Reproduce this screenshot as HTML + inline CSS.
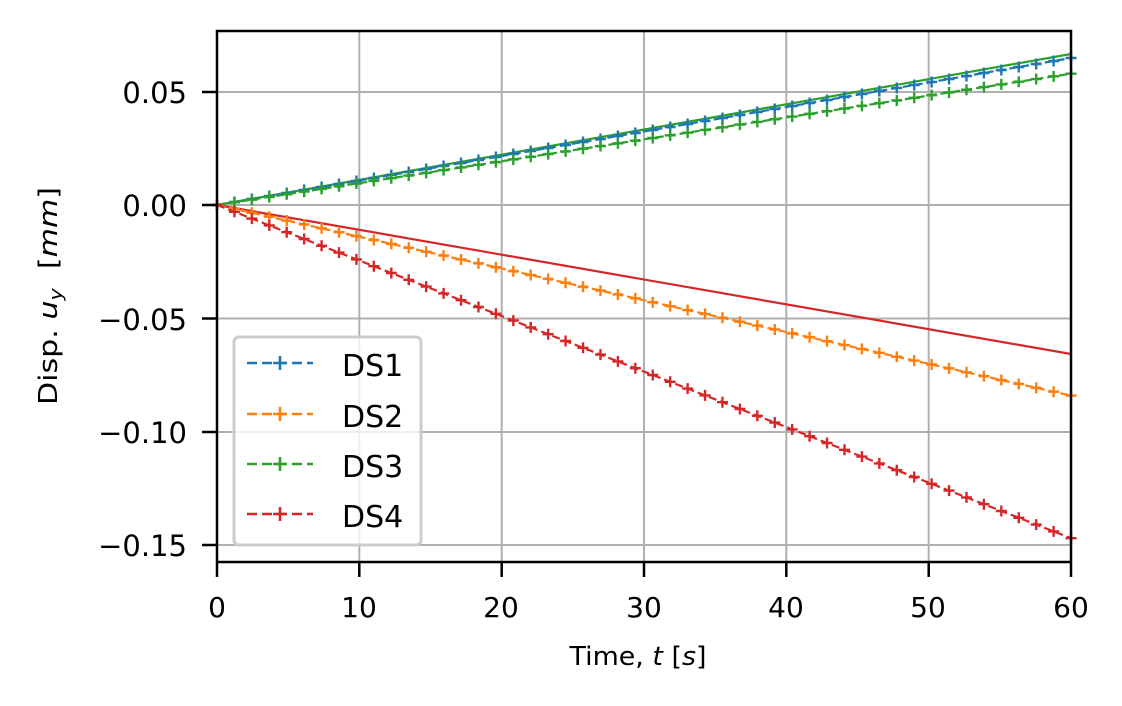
<!DOCTYPE html>
<html><head><meta charset="utf-8"><style>
html,body{margin:0;padding:0;background:#fff;}
svg{display:block;font-family:"DejaVu Sans","Liberation Sans",sans-serif;}
</style></head><body>
<svg width="1122" height="706" viewBox="0 0 1122 706" xmlns="http://www.w3.org/2000/svg">
<defs>
<marker id="mb" markerUnits="userSpaceOnUse" markerWidth="12" markerHeight="12" refX="6" refY="6" overflow="visible"><path d="M0.5 6h11M6 0.5v11" stroke="#1f77b4" stroke-width="2.4"/></marker>
<marker id="mo" markerUnits="userSpaceOnUse" markerWidth="12" markerHeight="12" refX="6" refY="6" overflow="visible"><path d="M0.5 6h11M6 0.5v11" stroke="#ff7f0e" stroke-width="2.4"/></marker>
<marker id="mg" markerUnits="userSpaceOnUse" markerWidth="12" markerHeight="12" refX="6" refY="6" overflow="visible"><path d="M0.5 6h11M6 0.5v11" stroke="#2ca02c" stroke-width="2.4"/></marker>
<marker id="mr" markerUnits="userSpaceOnUse" markerWidth="12" markerHeight="12" refX="6" refY="6" overflow="visible"><path d="M0.5 6h11M6 0.5v11" stroke="#d62728" stroke-width="2.4"/></marker>
</defs>
<rect width="1122" height="706" fill="#fff"/>
<g stroke="#b0b0b0" stroke-width="2">
<line x1="217" y1="31" x2="217" y2="562"/><line x1="359.3" y1="31" x2="359.3" y2="562"/><line x1="501.7" y1="31" x2="501.7" y2="562"/><line x1="644" y1="31" x2="644" y2="562"/><line x1="786.3" y1="31" x2="786.3" y2="562"/><line x1="928.7" y1="31" x2="928.7" y2="562"/><line x1="1071" y1="31" x2="1071" y2="562"/>
<line x1="217" y1="92" x2="1071" y2="92"/><line x1="217" y1="205" x2="1071" y2="205"/><line x1="217" y1="318.5" x2="1071" y2="318.5"/><line x1="217" y1="432" x2="1071" y2="432"/><line x1="217" y1="545" x2="1071" y2="545"/>
</g>
<line x1="217" y1="205" x2="1071" y2="54" stroke="#2ca02c" stroke-width="2.2"/>
<line x1="217" y1="205" x2="1071" y2="354" stroke="#d62728" stroke-width="2.2"/>
<g fill="none" stroke-width="2.2" stroke-dasharray="8,4">
<path stroke="#1f77b4" marker-start="url(#mb)" marker-mid="url(#mb)" marker-end="url(#mb)" d="M217 205
l17.43 -3.0 l17.43 -3.0 l17.43 -3.0 l17.43 -3.0 l17.43 -3.0 l17.43 -3.0 l17.43 -3.0
l17.43 -3.0 l17.43 -3.0 l17.43 -3.0 l17.43 -3.0 l17.43 -3.0 l17.43 -3.0 l17.43 -3.0
l17.43 -3.0 l17.43 -3.0 l17.43 -3.0 l17.43 -3.0 l17.43 -3.0 l17.43 -3.0 l17.43 -3.0
l17.43 -3.0 l17.43 -3.0 l17.43 -3.0 l17.43 -3.0 l17.43 -3.0 l17.43 -3.0 l17.43 -3.0
l17.43 -3.0 l17.43 -3.0 l17.43 -3.0 l17.43 -3.0 l17.43 -3.0 l17.43 -3.0 l17.43 -3.0
l17.43 -3.0 l17.43 -3.0 l17.43 -3.0 l17.43 -3.0 l17.43 -3.0 l17.43 -3.0 l17.43 -3.0
l17.43 -3.0 l17.43 -3.0 l17.43 -3.0 l17.43 -3.0 l17.43 -3.0 l17.43 -3.0 l17.43 -3.0"/>
<path stroke="#ff7f0e" marker-start="url(#mo)" marker-mid="url(#mo)" marker-end="url(#mo)" d="M217 205
l17.43 3.89 l17.43 3.89 l17.43 3.89 l17.43 3.89 l17.43 3.89 l17.43 3.89 l17.43 3.89
l17.43 3.89 l17.43 3.89 l17.43 3.89 l17.43 3.89 l17.43 3.89 l17.43 3.89 l17.43 3.89
l17.43 3.89 l17.43 3.89 l17.43 3.89 l17.43 3.89 l17.43 3.89 l17.43 3.89 l17.43 3.89
l17.43 3.89 l17.43 3.89 l17.43 3.89 l17.43 3.89 l17.43 3.89 l17.43 3.89 l17.43 3.89
l17.43 3.89 l17.43 3.89 l17.43 3.89 l17.43 3.89 l17.43 3.89 l17.43 3.89 l17.43 3.89
l17.43 3.89 l17.43 3.89 l17.43 3.89 l17.43 3.89 l17.43 3.89 l17.43 3.89 l17.43 3.89
l17.43 3.89 l17.43 3.89 l17.43 3.89 l17.43 3.89 l17.43 3.89 l17.43 3.89 l17.43 3.89"/>
<path stroke="#2ca02c" marker-start="url(#mg)" marker-mid="url(#mg)" marker-end="url(#mg)" d="M217 205
l17.43 -2.68 l17.43 -2.68 l17.43 -2.68 l17.43 -2.68 l17.43 -2.68 l17.43 -2.68 l17.43 -2.68
l17.43 -2.68 l17.43 -2.68 l17.43 -2.68 l17.43 -2.68 l17.43 -2.68 l17.43 -2.68 l17.43 -2.68
l17.43 -2.68 l17.43 -2.68 l17.43 -2.68 l17.43 -2.68 l17.43 -2.68 l17.43 -2.68 l17.43 -2.68
l17.43 -2.68 l17.43 -2.68 l17.43 -2.68 l17.43 -2.68 l17.43 -2.68 l17.43 -2.68 l17.43 -2.68
l17.43 -2.68 l17.43 -2.68 l17.43 -2.68 l17.43 -2.68 l17.43 -2.68 l17.43 -2.68 l17.43 -2.68
l17.43 -2.68 l17.43 -2.68 l17.43 -2.68 l17.43 -2.68 l17.43 -2.68 l17.43 -2.68 l17.43 -2.68
l17.43 -2.68 l17.43 -2.68 l17.43 -2.68 l17.43 -2.68 l17.43 -2.68 l17.43 -2.68 l17.43 -2.68"/>
<path stroke="#d62728" marker-start="url(#mr)" marker-mid="url(#mr)" marker-end="url(#mr)" d="M217 205
l17.43 6.8 l17.43 6.8 l17.43 6.8 l17.43 6.8 l17.43 6.8 l17.43 6.8 l17.43 6.8
l17.43 6.8 l17.43 6.8 l17.43 6.8 l17.43 6.8 l17.43 6.8 l17.43 6.8 l17.43 6.8
l17.43 6.8 l17.43 6.8 l17.43 6.8 l17.43 6.8 l17.43 6.8 l17.43 6.8 l17.43 6.8
l17.43 6.8 l17.43 6.8 l17.43 6.8 l17.43 6.8 l17.43 6.8 l17.43 6.8 l17.43 6.8
l17.43 6.8 l17.43 6.8 l17.43 6.8 l17.43 6.8 l17.43 6.8 l17.43 6.8 l17.43 6.8
l17.43 6.8 l17.43 6.8 l17.43 6.8 l17.43 6.8 l17.43 6.8 l17.43 6.8 l17.43 6.8
l17.43 6.8 l17.43 6.8 l17.43 6.8 l17.43 6.8 l17.43 6.8 l17.43 6.8 l17.43 6.8"/>
</g>
<rect x="217" y="31" width="854" height="531" fill="none" stroke="#000" stroke-width="2.5"/>
<g stroke="#000" stroke-width="2.5">
<line x1="217" y1="562" x2="217" y2="577"/><line x1="359.3" y1="562" x2="359.3" y2="577"/><line x1="501.7" y1="562" x2="501.7" y2="577"/><line x1="644" y1="562" x2="644" y2="577"/><line x1="786.3" y1="562" x2="786.3" y2="577"/><line x1="928.7" y1="562" x2="928.7" y2="577"/><line x1="1071" y1="562" x2="1071" y2="577"/>
<line x1="202" y1="92" x2="217" y2="92"/><line x1="202" y1="205" x2="217" y2="205"/><line x1="202" y1="318.5" x2="217" y2="318.5"/><line x1="202" y1="432" x2="217" y2="432"/><line x1="202" y1="545" x2="217" y2="545"/>
</g>
<g font-size="28" fill="#000" text-anchor="middle">
<text x="217" y="617">0</text><text x="359" y="617">10</text><text x="501" y="617">20</text><text x="644" y="617">30</text><text x="786" y="617">40</text><text x="928" y="617">50</text><text x="1071" y="617">60</text>
</g>
<g font-size="29" fill="#000" text-anchor="end">
<text x="187" y="103">0.05</text><text x="187" y="216">0.00</text><text x="187" y="330">−0.05</text><text x="187" y="443">−0.10</text><text x="187" y="556">−0.15</text>
</g>
<text x="638" y="665" font-size="26" text-anchor="middle" textLength="137" lengthAdjust="spacingAndGlyphs">Time, <tspan font-style="italic">t</tspan> [<tspan font-style="italic">s</tspan>]</text>
<text transform="translate(57,296) rotate(-90)" font-size="26" text-anchor="middle" textLength="218" lengthAdjust="spacingAndGlyphs" xml:space="preserve">Disp. <tspan font-style="italic">u</tspan><tspan font-style="italic" font-size="18" dy="5">y</tspan><tspan dy="-5">  [</tspan><tspan font-style="italic">mm</tspan>]</text>
<rect x="234" y="337" width="187" height="208" rx="5" fill="#fff" fill-opacity="0.8" stroke="#cccccc" stroke-width="3"/>
<g stroke-width="2.4" stroke-dasharray="10,5">
<line x1="247" x2="313" y1="363" y2="363" stroke="#1f77b4"/>
<line x1="247" x2="313" y1="414" y2="414" stroke="#ff7f0e"/>
<line x1="247" x2="313" y1="464" y2="464" stroke="#2ca02c"/>
<line x1="247" x2="313" y1="514" y2="514" stroke="#d62728"/>
</g>
<g stroke-width="2.6">
<path d="M273 363h14M280 356v14" stroke="#1f77b4"/>
<path d="M273 414h14M280 407v14" stroke="#ff7f0e"/>
<path d="M273 464h14M280 457v14" stroke="#2ca02c"/>
<path d="M273 514h14M280 507v14" stroke="#d62728"/>
</g>
<g font-size="30" fill="#000">
<text x="342" y="376">DS1</text><text x="342" y="427">DS2</text><text x="342" y="477">DS3</text><text x="342" y="527">DS4</text>
</g>
</svg>
</body></html>
